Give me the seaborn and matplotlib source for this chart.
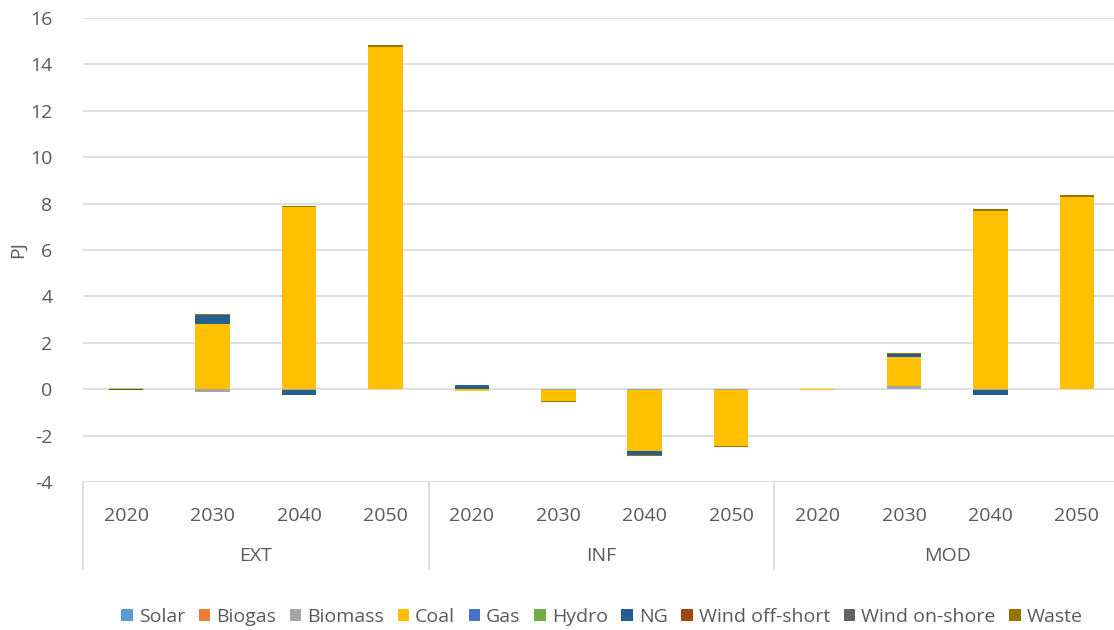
import numpy as np
import pandas as pd
import seaborn as sns
import matplotlib.pyplot as plt
from matplotlib.patches import Patch

# Scenario groups and years on the two-level category axis
scenarios = ["EXT", "INF", "MOD"]
years = ["2020", "2030", "2040", "2050"]

# Series in stacking order
series = ["Solar", "Biogas", "Biomass", "Coal", "Gas", "Hydro", "NG",
          "Wind off-short", "Wind on-shore", "Waste"]

# Values per category (EXT 2020..2050, INF 2020..2050, MOD 2020..2050), PJ
solar = [0, 0, 0, 0, 0, 0, 0, 0, 0, 0, 0, 0]
biogas = [0, 0, 0, 0, 0, 0, 0, 0, 0, 0, 0, 0]
biomass = [0, -0.1, -0.05, 0, 0.02, -0.05, -0.05, -0.03, 0, 0.13, -0.03, 0]
coal = [0.06, 2.8, 7.85, 14.76, -0.06, -0.45, -2.6, -2.42, -0.02, 1.25, 7.7, 8.3]
gas = [0, 0, 0, 0, 0, 0, 0, 0, 0, 0, 0, 0]
hydro = [0, 0, 0, 0, 0, 0, 0, 0, 0, 0, 0, 0]
ng = [-0.05, 0.4, -0.22, 0, 0.14, 0, -0.2, 0, -0.03, 0.14, -0.22, 0]
wind_off = [0, 0, 0, 0, 0, 0, 0, 0, 0, 0, 0, 0]
wind_on = [0, 0, 0, 0, 0, 0, 0, 0, 0, 0, 0, 0]
waste = [0.01, 0.04, 0.05, 0.07, 0, -0.05, -0.05, -0.05, 0, 0.04, 0.05, 0.07]

colors = ["#5B9BD5", "#ED7D31", "#A5A5A5", "#FFC000", "#4472C4",
          "#70AD47", "#255E91", "#9E480E", "#636363", "#997300"]

values = [solar, biogas, biomass, coal, gas, hydro, ng, wind_off, wind_on, waste]
cats = [f"{s}|{y}" for s in scenarios for y in years]

wide = pd.DataFrame(np.array(values).T, index=cats, columns=series)
pos = wide.clip(lower=0).cumsum(axis=1)
neg = wide.clip(upper=0).cumsum(axis=1)

sns.set_theme(style="white")
plt.rcParams["font.family"] = ["Open Sans", "DejaVu Sans"]
text_color = "#595959"
grid_color = "#D9D9D9"

fig = plt.figure(figsize=(11.14, 6.30), dpi=100)
W, H = 1114, 630
x0, x1, y_top, y_bot = 83, 1120, 18, 482
ax = fig.add_axes([x0 / W, 1 - y_bot / H, (x1 - x0) / W, (y_bot - y_top) / H])

# Stacked bars: draw cumulative totals from the top series down so each
# lower segment overlays the ones above it
for stack in (pos, neg):
    for name, color in reversed(list(zip(series, colors))):
        df = pd.DataFrame({"cat": cats, "val": stack[name].values})
        sns.barplot(data=df, x="cat", y="val", order=cats, color=color,
                    width=0.4, saturation=1, ax=ax, edgecolor="none",
                    linewidth=0, zorder=3)

ax.set_ylim(-4, 16)
ax.set_xlim(-0.5, len(cats) - 0.5)
ax.set_yticks(np.arange(-4, 17, 2))
ax.set_yticklabels([str(v) for v in range(-4, 17, 2)])
ax.yaxis.grid(True, color=grid_color, linewidth=1.2, zorder=0)
ax.set_axisbelow(True)
for sp in ax.spines.values():
    sp.set_visible(False)
ax.tick_params(axis="y", length=0, pad=22, labelsize=14, labelcolor=text_color)
ax.set_ylabel("PJ", fontsize=14, color=text_color)
ax.yaxis.set_label_coords(-0.054, 0.5)

# Year labels, group labels and separators below the plot
ax.set_xticks(range(len(cats)))
ax.set_xticklabels(years * len(scenarios))
ax.tick_params(axis="x", length=0, pad=18, labelsize=14, labelcolor=text_color)
ax.set_xlabel("")
trans = ax.get_xaxis_transform()
sep_depth = (569 - 482) / (y_bot - y_top)
for i in range(len(scenarios) + 1):
    xs = i * len(years) - 0.5
    ax.plot([xs, xs], [0, -sep_depth], transform=trans, color=grid_color,
            linewidth=1.2, clip_on=False)
for i, s in enumerate(scenarios):
    xc = i * len(years) + (len(years) - 1) / 2
    ax.text(xc, -(556 - 482) / (y_bot - y_top), s, transform=trans,
            ha="center", va="center", fontsize=14, color=text_color)

handles = [Patch(facecolor=c, edgecolor="none") for c in colors]
fig.legend(handles, series, loc="center", bbox_to_anchor=(602 / W, 1 - 617 / H),
           ncol=len(series), frameon=False, fontsize=14, handlelength=0.6,
           handleheight=0.6, handletextpad=0.3, columnspacing=0.7,
           labelcolor=text_color)

fig.savefig("out.png", dpi=100)
